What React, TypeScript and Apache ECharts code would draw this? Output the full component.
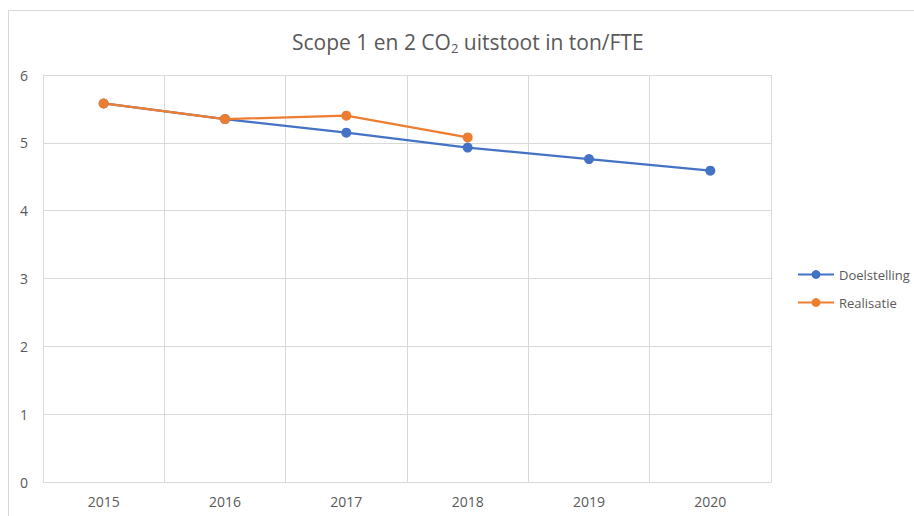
import React, { useEffect, useRef } from "react";
import * as echarts from "echarts";

const categories = ["2015", "2016", "2017", "2018", "2019", "2020"];
const doelstelling = [5.58, 5.35, 5.15, 4.93, 4.76, 4.59];
const realisatie = [5.58, 5.35, 5.4, 5.08, null, null];
const yTicks = { min: 0, max: 6, interval: 1 };

const GRID = "#d9d9d9";
const TEXT = "#595959";
const FONT = "'Open Sans', Lato, sans-serif";

export default function App() {
  const ref = useRef<HTMLDivElement>(null);
  useEffect(() => {
    const chart = echarts.init(ref.current!, null, { renderer: "svg" });
    chart.setOption({
      animation: false,
      backgroundColor: "#ffffff",
      textStyle: { fontFamily: FONT, color: TEXT },
      title: {
        text: "Scope 1 en 2 CO{sub|2} uitstoot in ton/FTE",
        left: 287,
        top: 24,
        textStyle: {
          fontFamily: FONT,
          fontSize: 21,
          fontWeight: "normal",
          color: TEXT,
          rich: {
            sub: { fontFamily: FONT, fontSize: 13, color: TEXT, verticalAlign: "bottom", padding: [12, 0, 0, 0] },
          },
        },
      },
      graphic: [
        {
          type: "rect",
          shape: { x: 8.5, y: 10.5, width: 1000, height: 1000 },
          style: { fill: "none", stroke: GRID, lineWidth: 1 },
          silent: true,
        },
      ],
      legend: {
        orient: "vertical",
        left: 792,
        top: 263,
        itemGap: 15,
        itemWidth: 36,
        itemHeight: 11,
        textStyle: { fontFamily: FONT, fontSize: 13, color: TEXT },
        data: ["Doelstelling", "Realisatie"],
      },
      grid: { left: 43, top: 75, right: 143, bottom: 34 },
      xAxis: {
        type: "category",
        data: categories,
        boundaryGap: true,
        axisLine: { show: true, lineStyle: { color: GRID, width: 1 } },
        axisTick: { show: false },
        splitLine: { show: true, lineStyle: { color: GRID, width: 1 } },
        axisLabel: { fontFamily: FONT, fontSize: 14, color: TEXT, margin: 12 },
      },
      yAxis: {
        type: "value",
        min: yTicks.min,
        max: yTicks.max,
        interval: yTicks.interval,
        axisLine: { show: true, lineStyle: { color: GRID, width: 1 } },
        axisTick: { show: false },
        splitLine: { show: true, lineStyle: { color: GRID, width: 1 } },
        axisLabel: { fontFamily: FONT, fontSize: 14, color: TEXT, margin: 15 },
      },
      series: [
        {
          name: "Doelstelling",
          type: "line",
          data: doelstelling,
          symbol: "circle",
          symbolSize: 10,
          itemStyle: { color: "#4472c4" },
          lineStyle: { color: "#4472c4", width: 2.25 },
        },
        {
          name: "Realisatie",
          type: "line",
          data: realisatie,
          symbol: "circle",
          symbolSize: 10,
          itemStyle: { color: "#ed7d31" },
          lineStyle: { color: "#ed7d31", width: 2.25 },
        },
      ],
    });
    return () => chart.dispose();
  }, []);
  return (
    <div
      ref={ref}
      style={{ position: "fixed", left: 0, top: 0, width: 914, height: 516 }}
    />
  );
}
